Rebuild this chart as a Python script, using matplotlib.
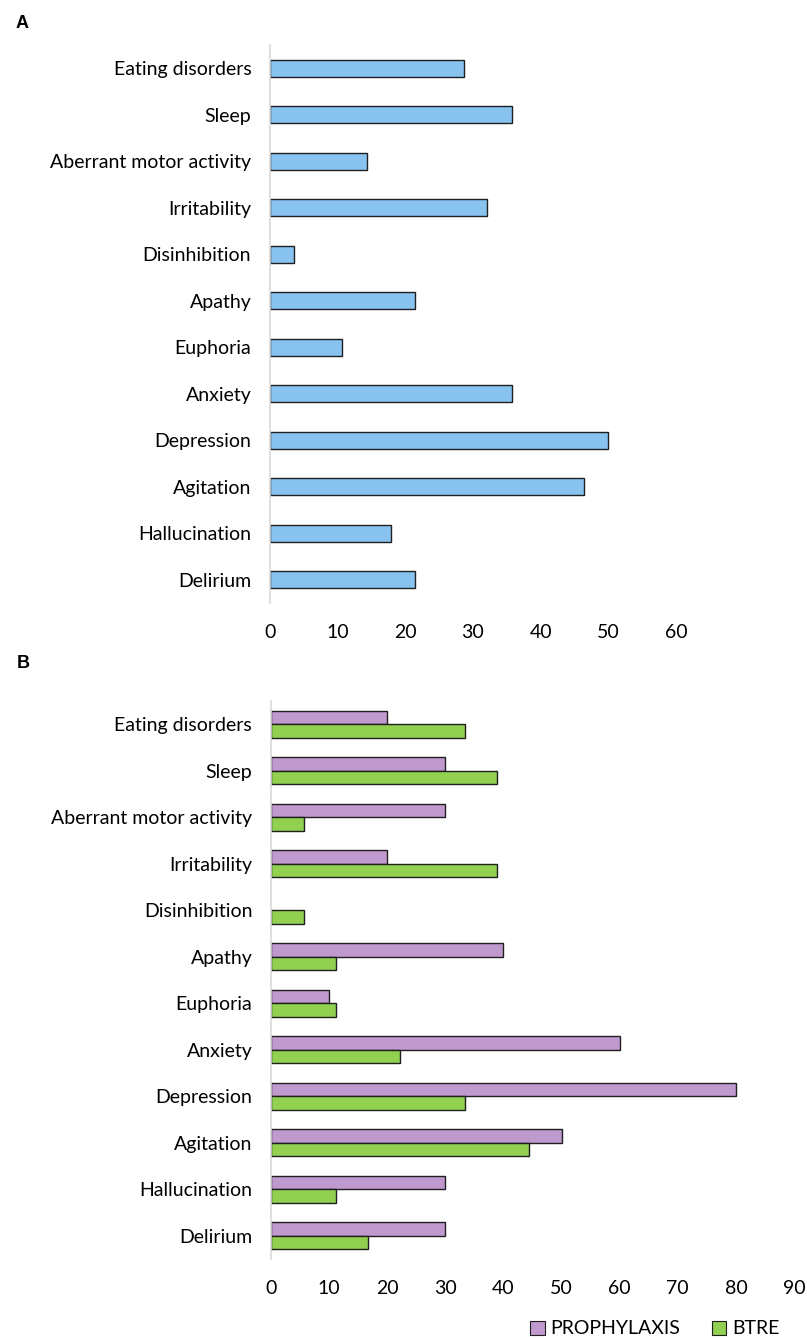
import matplotlib
matplotlib.use("Agg")
import matplotlib.pyplot as plt
import numpy as np
from matplotlib.patches import Patch

categories = ["Eating disorders", "Sleep", "Aberrant motor activity", "Irritability",
              "Disinhibition", "Apathy", "Euphoria", "Anxiety", "Depression",
              "Agitation", "Hallucination", "Delirium"]
total = [28.6, 35.7, 14.3, 32.1, 3.6, 21.4, 10.7, 35.7, 50.0, 46.4, 17.9, 21.4]
prophylaxis = [20, 30, 30, 20, 0, 40, 10, 60, 80, 50, 30, 30]
btre = [33.3, 38.9, 5.6, 38.9, 5.6, 11.1, 11.1, 22.2, 33.3, 44.4, 11.1, 16.7]
ticks_a = [0, 10, 20, 30, 40, 50, 60]
ticks_b = [0, 10, 20, 30, 40, 50, 60, 70, 80, 90]

plt.rcParams['font.family'] = ['Lato', 'DejaVu Sans']

W, H = 807, 1339
fig = plt.figure(figsize=(W / 100, H / 100), dpi=100)

def frac(x0, y0, x1, y1):
    return [x0 / W, 1 - y1 / H, (x1 - x0) / W, (y1 - y0) / H]

blue = "#88C3EF"
purple = "#C09ACE"
green = "#92D050"
edge = "#1f1f1f"
n = len(categories)
y = np.arange(n)

def style(ax, ticks, xmax):
    ax.set_ylim(n - 0.5, -0.5)
    ax.set_xlim(0, xmax)
    ax.set_xticks(ticks)
    ax.set_yticks(y)
    ax.set_yticklabels(categories)
    for s in ["top", "right", "bottom"]:
        ax.spines[s].set_visible(False)
    ax.spines["left"].set_color("#d9d9d9")
    ax.spines["left"].set_linewidth(1.2)
    ax.tick_params(axis="both", length=0, labelsize=14, colors="black")
    ax.tick_params(axis="y", pad=13.5)
    ax.tick_params(axis="x", pad=15)

# Panel A
axA = fig.add_axes(frac(270, 45, 676, 603))
axA.barh(y, total, height=0.36, color=blue, edgecolor=edge, linewidth=1.0)
style(axA, ticks_a, 60)

# Panel B
axB = fig.add_axes(frac(271, 701, 794, 1259))
h = 0.29
lw_p = [1.0 if v > 0 else 0 for v in prophylaxis]
axB.barh(y - h / 2, prophylaxis, height=h, color=purple, edgecolor=edge, linewidth=lw_p)
axB.barh(y + h / 2, btre, height=h, color=green, edgecolor=edge, linewidth=1.0)
style(axB, ticks_b, 90)

handles = [Patch(facecolor=purple, edgecolor=edge, linewidth=0.8, label="PROPHYLAXIS"),
           Patch(facecolor=green, edgecolor=edge, linewidth=0.8, label="BTRE")]
fig.legend(handles=handles, loc="center right", bbox_to_anchor=(797 / W, 1 - 1329 / H),
           ncol=2, frameon=False, fontsize=14, handlelength=0.75, handleheight=0.75,
           handletextpad=0.3, columnspacing=1.6)

fig.text(16 / W, 1 - 23 / H, "A", fontsize=13, fontweight="bold",
         family=["Liberation Sans", "DejaVu Sans"], va="center", ha="left")
fig.text(17 / W, 1 - 663 / H, "B", fontsize=13, fontweight="bold",
         family=["Liberation Sans", "DejaVu Sans"], va="center", ha="left")

fig.savefig("out.png", dpi=100)
